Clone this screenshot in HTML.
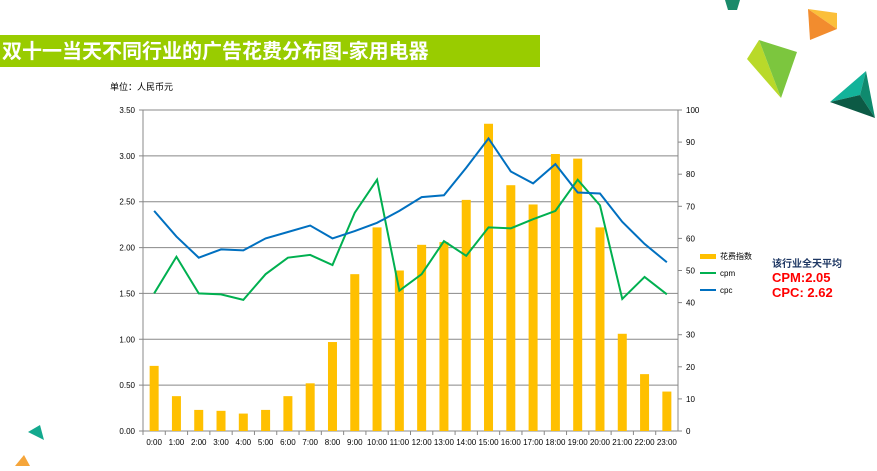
<!DOCTYPE html>
<html><head><meta charset="utf-8"><style>
body{margin:0;width:877px;height:466px;background:#fff;overflow:hidden;font-family:"Liberation Sans","Noto Sans CJK SC",sans-serif;}
</style></head><body>
<svg width="877" height="466" xmlns="http://www.w3.org/2000/svg">
<g>
<polygon points="725,0 740,0 737,10 728,10" fill="#1a8a6a"/>
<polygon points="808,9 837,13 837,29" fill="#fbbf3a"/>
<polygon points="808,9 837,29 810,40" fill="#f28c2e"/>
<polygon points="747,59 759,40 781,98" fill="#b9d92a"/>
<polygon points="759,40 797,52 781,98" fill="#7cc63e"/>
<polygon points="866,71 830,102 860,95" fill="#13b39a"/>
<polygon points="866,71 860,95 875,118" fill="#0f8a6e"/>
<polygon points="830,102 860,95 875,118" fill="#0c5a45"/>
<polygon points="28,432 40,425 44,440" fill="#13a98e"/>
<polygon points="15,466 24,455 30,466" fill="#f5a53a"/>
</g>
<rect x="0" y="35" width="540" height="32" fill="#99cc00"/>
<text x="2" y="58" font-size="20" font-weight="bold" fill="#fff">双十一当天不同行业的广告花费分布图-家用电器</text>
<text x="110" y="90" font-size="9" fill="#000">单位：人民币元</text>
<g id="plot"></g>
<g>
<rect x="700" y="254" width="16" height="5" fill="#ffc000"/><text x="720" y="259" font-size="8">花费指数</text>
<line x1="700" y1="273" x2="716" y2="273" stroke="#00b050" stroke-width="2"/><text x="720" y="276" font-size="8">cpm</text>
<line x1="700" y1="290" x2="716" y2="290" stroke="#0070c0" stroke-width="2"/><text x="720" y="293" font-size="8">cpc</text>
</g>
<text x="772" y="267" font-size="10" font-weight="bold" fill="#1f3864">该行业全天平均</text>
<text x="772" y="282" font-size="13" font-weight="bold" fill="#ff0000">CPM:2.05</text>
<text x="772" y="297" font-size="13" font-weight="bold" fill="#ff0000">CPC: 2.62</text>
</svg>
<script>
const categories=["0:00","1:00","2:00","3:00","4:00","5:00","6:00","7:00","8:00","9:00","10:00","11:00","12:00","13:00","14:00","15:00","16:00","17:00","18:00","19:00","20:00","21:00","22:00","23:00"];
const spend=[0.71,0.38,0.23,0.22,0.19,0.23,0.38,0.52,0.97,1.71,2.22,1.75,2.03,2.06,2.52,3.35,2.68,2.47,3.02,2.97,2.22,1.06,0.62,0.43];
const cpm=[1.50,1.90,1.50,1.49,1.43,1.71,1.89,1.92,1.81,2.38,2.74,1.53,1.71,2.07,1.91,2.22,2.21,2.31,2.40,2.74,2.46,1.44,1.68,1.49];
const cpc=[2.40,2.12,1.89,1.98,1.97,2.10,2.17,2.24,2.10,2.18,2.27,2.40,2.55,2.57,2.87,3.19,2.83,2.70,2.91,2.60,2.59,2.28,2.04,1.84];
const leftTicks=["0.00","0.50","1.00","1.50","2.00","2.50","3.00","3.50"];
const rightTicks=["0","10","20","30","40","50","60","70","80","90","100"];
const NS="http://www.w3.org/2000/svg";
const g=document.getElementById('plot');
const X0=143,X1=678,Y0=431,Y1=110,MAXL=3.5;
const bw=(X1-X0)/categories.length;
const xc=i=>X0+bw*(i+0.5);
const yl=v=>Y0-(v/MAXL)*(Y0-Y1);
function mk(t,a){const e=document.createElementNS(NS,t);for(const k in a)e.setAttribute(k,a[k]);g.appendChild(e);return e;}
leftTicks.forEach((t,i)=>{const y=yl(+t);
 const l=mk('line',{x1:X0-4,y1:y,x2:X1,y2:y,stroke:i?'#888':'#888','stroke-width':1});
 
 
 const tx=mk('text',{x:X0-8,y:y+3,'font-size':8,'text-anchor':'end'});tx.textContent=t;
 
 
});
rightTicks.forEach((t,i)=>{const y=Y0-(+t/100)*(Y0-Y1);
 mk('line',{x1:X1,y1:y,x2:X1+4,y2:y,stroke:'#888'});
 const tx=mk('text',{x:X1+8,y:y+3,'font-size':8});tx.textContent=t;
 
 
});
mk('line',{x1:X0,y1:Y1,x2:X0,y2:Y0,stroke:'#888'});
mk('line',{x1:X1,y1:Y1,x2:X1,y2:Y0,stroke:'#888'});
categories.forEach((c,i)=>{
 const b=mk('rect',{x:xc(i)-4.5,y:yl(spend[i]),width:9,height:Y0-yl(spend[i]),fill:'#ffc000'});
 
 
 mk('line',{x1:X0+bw*i,y1:Y0,x2:X0+bw*i,y2:Y0+4,stroke:'#888'});
 const tx=mk('text',{x:xc(i),y:445,'font-size':8,'text-anchor':'middle'});tx.textContent=c;
 
 
});
function line(arr,col,name){const p=mk('polyline',{points:arr.map((v,i)=>xc(i)+','+yl(v)).join(' '),fill:'none',stroke:col,'stroke-width':2});
 
 }
line(cpm,'#00b050','cpm-line');
line(cpc,'#0070c0','cpc-line');
</script>
</body></html>
